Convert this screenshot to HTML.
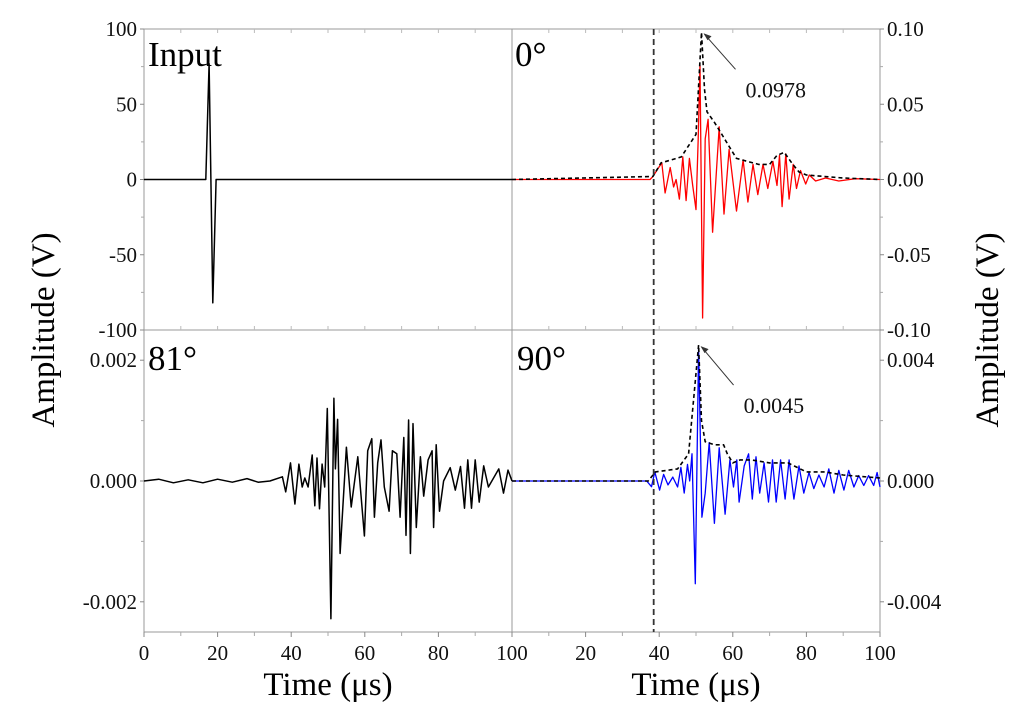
<!DOCTYPE html>
<html><head><meta charset="utf-8">
<style>
html,body{margin:0;padding:0;background:#fff;}
svg{display:block;font-family:"Liberation Serif",serif;}
</style></head>
<body>
<svg id="chart" width="1024" height="723" viewBox="0 0 1024 723" xmlns="http://www.w3.org/2000/svg">
<g id="axes"></g>
<g id="marks"></g>
<g id="labels"></g>
</svg>
<script>
// x tick labels
const xTicks = [0,20,40,60,80,100];
const yTicksTopLeft = [100,50,0,-50,-100];
const yTicksTopLeftLabels = ["100","50","0","-50","-100"];
const yTicksTopRight = [0.10,0.05,0,-0.05,-0.10];
const yTicksTopRightLabels = ["0.10","0.05","0.00","-0.05","-0.10"];
const yTicksBotLeft = [0.002,0,-0.002];
const yTicksBotLeftLabels = ["0.002","0.000","-0.002"];
const yTicksBotRight = [0.004,0,-0.004];
const yTicksBotRightLabels = ["0.004","0.000","-0.004"];

// Input signal [time us, amplitude V]
const inputT = [0,16.8,17.7,18.7,19.6,100];
const inputV = [0,0,77,-82,0,0];

// 0 degree signal
const sig0T = [0,37.5,38.3,39.6,40.7,41.6,43,43.9,44.6,45.5,46.4,47.3,48.2,49.1,50,50.6,51.1,51.8,52.5,53.3,54.5,56.3,57.6,59,61,62.8,64.1,65.5,66.8,68.2,69.5,70.9,72,72.7,73.4,74.4,75.3,76.4,77.3,78.4,79.8,80.8,82.5,85.2,88.8,93.3,100];
const sig0V = [0,0,0.002,0.007,0.011,-0.009,0.008,-0.005,0,-0.013,0.015,-0.014,0.014,-0.004,-0.020,0.027,0.076,-0.092,0.027,0.040,-0.035,0.035,-0.023,0.020,-0.021,0.013,-0.015,0.010,-0.010,0.010,-0.006,0.012,-0.004,0.016,-0.018,0.017,-0.013,0.010,-0.006,0.006,-0.003,0.003,-0.001,0.001,-0.001,0.0005,0];
const env0T = [0,38.3,40.5,46,50,51.5,52.3,53,55,57,59,61,64,67,70,72,74,76,78,80,85,90,100];
const env0V = [0,0.002,0.011,0.015,0.030,0.0978,0.060,0.045,0.038,0.030,0.022,0.014,0.012,0.010,0.010,0.016,0.018,0.011,0.005,0.003,0.002,0.001,0];

// 81 degree signal
const sig81T = [0,4,8,12,16,20,24,28,31,34.2,37.6,38.5,39.8,41,42.1,43,43.7,44.6,45.7,46.4,47,47.7,48.4,49.1,49.8,50.8,51.6,52,52.6,53.3,55,56.3,58.1,59.9,60.8,61.9,62.6,63.5,64.4,65.3,66.6,67.5,68.7,69.6,70.6,71.2,71.9,72.4,73.1,74,75.1,76,77.2,78.3,78.7,79.4,80.3,81.4,83.2,84.6,86,87.1,88,89,90,91.1,92.3,93.6,96.4,97.7,98.9,100];
const sig81V = [0,0.00003,-0.00003,0.00002,-0.00003,0.00003,-0.00002,0.00004,-0.00002,0,0.00007,-0.00018,0.0003,-0.00038,0.00028,-0.0001,0.00005,-0.0001,0.00043,-0.00041,0.00038,-0.00046,0.00028,-0.0001,0.0012,-0.00228,0.00137,0.0002,0.00102,-0.0012,0.00056,-0.00043,0.0004,-0.00091,0.0005,0.0007,-0.0006,0.0003,0.00068,-0.0001,-0.0005,0.0005,0.00045,-0.0006,0.00072,-0.0009,0.00101,-0.0012,0.00095,-0.00077,0.0004,-0.00025,0.00035,0.0005,-0.00077,0.0006,-0.0005,0,0.00022,-0.00015,0.00024,-0.00045,0.00035,-0.00045,0.00035,-0.00035,0.00025,-0.0001,0.0002,-0.0002,0.00018,0];

// 90 degree signal
const sig90T = [0,36.6,37.9,38.8,40.1,41.2,42.4,43.7,45,45.9,46.8,47.7,48.3,48.9,49.8,50.7,51.6,52.5,53.6,55,56.3,57.9,59.2,60.2,61.1,61.7,63.1,64.3,65.3,66.3,67.3,68.5,69.7,70.8,71.8,73,74.2,75.3,76.6,78,79.3,80.7,82,83.4,84.8,86.1,87.5,88.8,90.2,91.5,92.9,94.2,95.6,96.9,98.3,99.2,100];
const sig90V = [0,0,-0.00019,0.0003,-0.0003,0.00022,-0.00013,0.00013,-0.0002,0.00045,-0.0004,0.00055,0,0.0009,-0.0034,0.0044,-0.0012,-0.0004,0.00127,-0.0014,0.0011,-0.0011,0.0007,-0.0002,0.0007,-0.0007,0.0005,0.0009,-0.0006,0.0008,-0.0004,0.0006,-0.0007,0.0007,-0.0007,0.0007,-0.0006,0.0007,-0.0006,0.0005,-0.0004,0.00028,-0.00025,0.0002,-0.0002,0.0004,-0.0004,0.00035,-0.0003,0.00035,-0.0002,0.00018,-0.00015,0.00018,-0.00015,0.00028,-0.0002];
const env90T = [0,37,39,45,48,50.7,51.5,52.5,55,57.5,58.5,60,62,65,70,75,80,85,90,100];
const env90V = [0,0,0.0003,0.0004,0.0009,0.0045,0.002,0.0013,0.0012,0.0012,0.0009,0.0006,0.0007,0.0007,0.0006,0.0006,0.0003,0.0003,0.0002,0.0001];

const peak0Label = "0.0978";
const peak90Label = "0.0045";
const onsetTime = 38.5;

const NS = "http://www.w3.org/2000/svg";
const axes = document.getElementById('axes');
const marks = document.getElementById('marks');
const labels = document.getElementById('labels');
function mk(tag, attrs, parent){ const e=document.createElementNS(NS,tag); for(const k in attrs) e.setAttribute(k,attrs[k]); parent.appendChild(e); return e; }

const XL=[144,512], XR=[512,880], YT=[29,330], YB=[330,632];
function xs(px){ return t => px[0] + (t/100)*(px[1]-px[0]); }
function ys(py, lim){ return v => (py[0]+py[1])/2 - v/lim*(py[1]-py[0])/2; }
const panels = {
  input:{x:xs(XL), y:ys(YT,100)},
  p0:{x:xs(XR), y:ys(YT,0.1)},
  p81:{x:xs(XL), y:ys(YB,0.0025)},
  p90:{x:xs(XR), y:ys(YB,0.005)}
};

// frames
[[XL,YT,'frame-input'],[XR,YT,'frame-0deg'],[XL,YB,'frame-81deg'],[XR,YB,'frame-90deg']].forEach(([X,Y,n])=>{
  const r=mk('rect',{x:X[0],y:Y[0],width:X[1]-X[0],height:Y[1]-Y[0],fill:'none',stroke:'#999','stroke-width':1},axes);
  
  
});

function ytick(p, vals, labs, side, X){
  vals.forEach((v,i)=>{
    const y=p.y(v);
    const x0 = side==='l'?X[0]:X[1];
    const d = side==='l'?-4:4;
    mk('line',{x1:x0,y1:y,x2:x0+d,y2:y,stroke:'#888'},axes);
    const t=mk('text',{x: side==='l'?x0-7:x0+7, y:y+7,'font-size':21,'text-anchor':side==='l'?'end':'start',fill:'#111'},labels);
    t.textContent=labs[i];
    
    
  });
  for(let i=0;i<vals.length-1;i++){
    const y=p.y((vals[i]+vals[i+1])/2);
    const x0 = side==='l'?X[0]:X[1];
    mk('line',{x1:x0,y1:y,x2:x0+(side==='l'?-3:3),y2:y,stroke:'#aaa'},axes);
  }
}
ytick(panels.input, yTicksTopLeft, yTicksTopLeftLabels,'l',XL);
ytick(panels.p81, yTicksBotLeft, yTicksBotLeftLabels,'l',XL);
ytick(panels.p0, yTicksTopRight, yTicksTopRightLabels,'r',XR);
ytick(panels.p90, yTicksBotRight, yTicksBotRightLabels,'r',XR);

// x ticks
[[panels.p81,0],[panels.p90,1]].forEach(([p,k])=>{
  xTicks.forEach(t=>{
    const x=p.x(t);
    mk('line',{x1:x,y1:632,x2:x,y2:637,stroke:'#888'},axes);
    if(k===1 && t===0) return;
    const tx=mk('text',{x:x,y:660,'font-size':21,'text-anchor':'middle',fill:'#111'},labels);
    tx.textContent=String(t);
    
    
  });
  for(let i=0;i<xTicks.length-1;i++){
    const x=p.x((xTicks[i]+xTicks[i+1])/2);
    mk('line',{x1:x,y1:632,x2:x,y2:636,stroke:'#aaa'},axes);
  }
});
[panels.input,panels.p0].forEach(p=>{
  for(let t=10;t<100;t+=10){ const x=p.x(t); mk('line',{x1:x,y1:29,x2:x,y2:33,stroke:'#bbb'},axes); mk('line',{x1:x,y1:330,x2:x,y2:326,stroke:'#bbb'},axes);}
});

function line(p, T, V, color, w, dash, name){
  const d = T.map((t,i)=>(i?'L':'M')+p.x(t).toFixed(1)+','+p.y(V[i]).toFixed(1)).join(' ');
  const e=mk('path',{d:d,fill:'none',stroke:color,'stroke-width':w,'stroke-linejoin':'round'},marks);
  if(dash) e.setAttribute('stroke-dasharray',dash);
  
  
}
line(panels.input, inputT, inputV, '#000', 1.5, null, 'input-signal');
line(panels.p0, sig0T, sig0V, '#ff0000', 1.3, null, 'signal-0deg');
line(panels.p0, env0T, env0V, '#000', 1.6, '4,3', 'envelope-0deg');
line(panels.p81, sig81T, sig81V, '#000', 1.5, null, 'signal-81deg');
line(panels.p90, sig90T, sig90V, '#0000ff', 1.3, null, 'signal-90deg');
line(panels.p90, env90T, env90V, '#000', 1.6, '4,3', 'envelope-90deg');

const ox = panels.p0.x(onsetTime);
const ol=mk('line',{x1:ox,y1:29,x2:ox,y2:632,stroke:'#333','stroke-width':1.8,'stroke-dasharray':'6,4'},marks);



function annot(p, tPeak, vPeak, lab, dx, dy, name){
  const x=p.x(tPeak), y=p.y(vPeak);
  mk('line',{x1:x+3,y1:y+2,x2:x+dx,y2:y+dy,stroke:'#333','stroke-width':1},labels);
  mk('path',{d:`M${x+2},${y+1} l8,3 l-4,4 z`,fill:'#333'},labels);
  const t=mk('text',{x:x+dx+10,y:y+dy+28,'font-size':22,fill:'#111'},labels);
  t.textContent=lab;
  
  
}
annot(panels.p0, 51.5, 0.0978, peak0Label, 34, 37, 'peak-label-0deg');
annot(panels.p90, 50.7, 0.0045, peak90Label, 35, 40, 'peak-label-90deg');

[['Input',148,66,'panel-title-input'],['0°',515,66,'panel-title-0deg'],['81°',148,370,'panel-title-81deg'],['90°',517,370,'panel-title-90deg']].forEach(([s,x,y,n])=>{
  const t=mk('text',{x:x,y:y,'font-size':35,fill:'#000'},labels);
  t.textContent=s;
  
  
});
[[328,'x-axis-title-left'],[696,'x-axis-title-right']].forEach(([x,n])=>{
  const t=mk('text',{x:x,y:695,'font-size':33,'text-anchor':'middle',fill:'#000'},labels);
  t.textContent='Time (μs)';
  
  
});
const yl=mk('text',{x:0,y:0,'font-size':33,'text-anchor':'middle',fill:'#000',transform:'translate(54,330) rotate(-90)'},labels);
yl.textContent='Amplitude (V)';


const yr=mk('text',{x:0,y:0,'font-size':33,'text-anchor':'middle',fill:'#000',transform:'translate(998,330) rotate(-90)'},labels);
yr.textContent='Amplitude (V)';


</script>
</body></html>
